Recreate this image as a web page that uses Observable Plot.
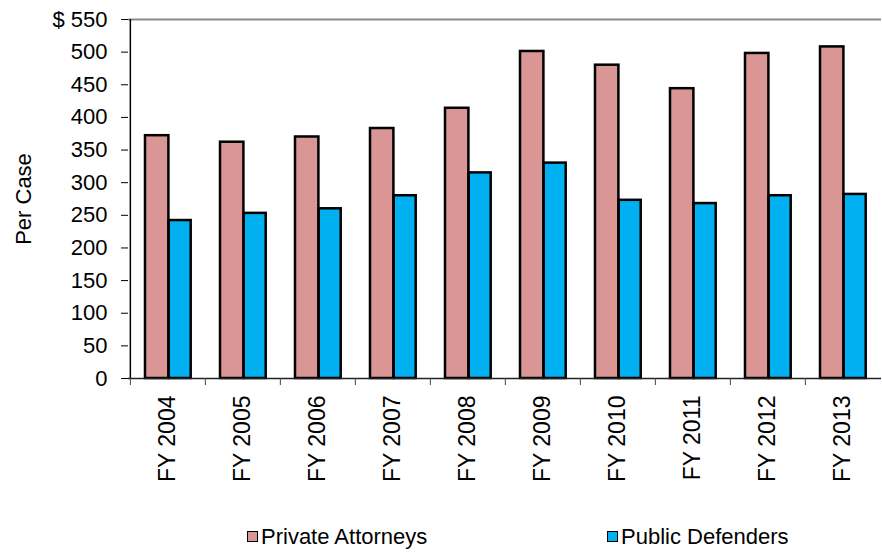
<!DOCTYPE html>
<html>
<head>
<meta charset="utf-8">
<script src="https://cdn.jsdelivr.net/npm/d3@7"></script>
<script src="https://cdn.jsdelivr.net/npm/@observablehq/plot@0.6"></script>
<style>
  html, body { margin: 0; padding: 0; background: #fff; }
  #wrap { width: 882px; font-family: "Liberation Sans", Arial, sans-serif; }
  #legend { position: relative; width: 882px; height: 33px; font-size: 22px; color: #000; }
  .item { position: absolute; top: 0; height: 33px; display: flex; align-items: center; }
  .sw { width: 9px; height: 9px; border: 1.5px solid #000; margin-right: 3px; }
</style>
</head>
<body>
<div id="wrap">
  <div id="chart"></div>
  <div id="legend"></div>
</div>
<script>
const years = ["FY 2004", "FY 2005", "FY 2006", "FY 2007", "FY 2008", "FY 2009", "FY 2010", "FY 2011", "FY 2012", "FY 2013"];
const privateAttorneys = [372, 362, 370, 383, 414, 501, 480, 444, 498, 508];
const publicDefenders = [242, 253, 260, 280, 315, 330, 273, 268, 280, 282];
const yTicks = [0, 50, 100, 150, 200, 250, 300, 350, 400, 450, 500, 550];
const yTitle = "Per Case";
const seriesNames = ["Private Attorneys", "Public Defenders"];
const seriesColors = ["#D99694", "#00B0F0"];

const W = 882, mL = 128, mR = 1;
const step = (W - mL - mR) / years.length;

const privRows = years.map((y, i) => ({year: y, value: privateAttorneys[i]}));
const pubRows = years.map((y, i) => ({year: y, value: publicDefenders[i]}));

const chart = Plot.plot({
  width: W,
  height: 520,
  marginTop: 19,
  marginLeft: mL,
  marginRight: mR,
  marginBottom: 142,
  style: {fontFamily: "Liberation Sans, Arial, sans-serif", fontSize: "22px", color: "#000", background: "#fff"},
  x: {domain: years, padding: 0, axis: null},
  y: {domain: [0, 550], axis: null},
  marks: [
    Plot.ruleY([550], {stroke: "#8c8c8c", strokeWidth: 2}),
    Plot.barY(privRows, {x: "year", y: "value", fill: seriesColors[0], stroke: "#000", strokeWidth: 2.5, insetLeft: 15, insetRight: step - 38.7}),
    Plot.barY(pubRows, {x: "year", y: "value", fill: seriesColors[1], stroke: "#000", strokeWidth: 2.5, insetLeft: 38.7, insetRight: 14.3}),
    Plot.ruleY([0], {stroke: "#222", strokeWidth: 1.5}),
    Plot.ruleX([years[0]], {dx: -step / 2, stroke: "#000", strokeWidth: 1.5}),
    Plot.axisY({ticks: yTicks, tickSize: 7, tickPadding: 14, tickFormat: d => d === 550 ? "$ 550" : String(d), label: null}),
    Plot.text([yTitle], {text: d => d, frameAnchor: "left", rotate: -90, dx: -105, fontSize: 22, textAnchor: "middle"}),
    Plot.axisX({tickSize: 0, tickRotate: -90, tickPadding: 17, label: null, fontSize: 23}),
    Plot.axisX({tickSize: 7, tickFormat: () => "", dx: -step / 2, label: null, stroke: "#444"})
  ]
});
document.getElementById("chart").appendChild(chart);

const legend = document.getElementById("legend");
const legendLeft = [247, 607];
seriesNames.forEach((name, i) => {
  const item = document.createElement("div");
  item.className = "item";
  item.style.left = legendLeft[i] + "px";
  const sw = document.createElement("div");
  sw.className = "sw";
  sw.style.background = seriesColors[i];
  const t = document.createElement("span");
  t.textContent = name;
  item.appendChild(sw);
  item.appendChild(t);
  legend.appendChild(item);
});
</script>
</body>
</html>
